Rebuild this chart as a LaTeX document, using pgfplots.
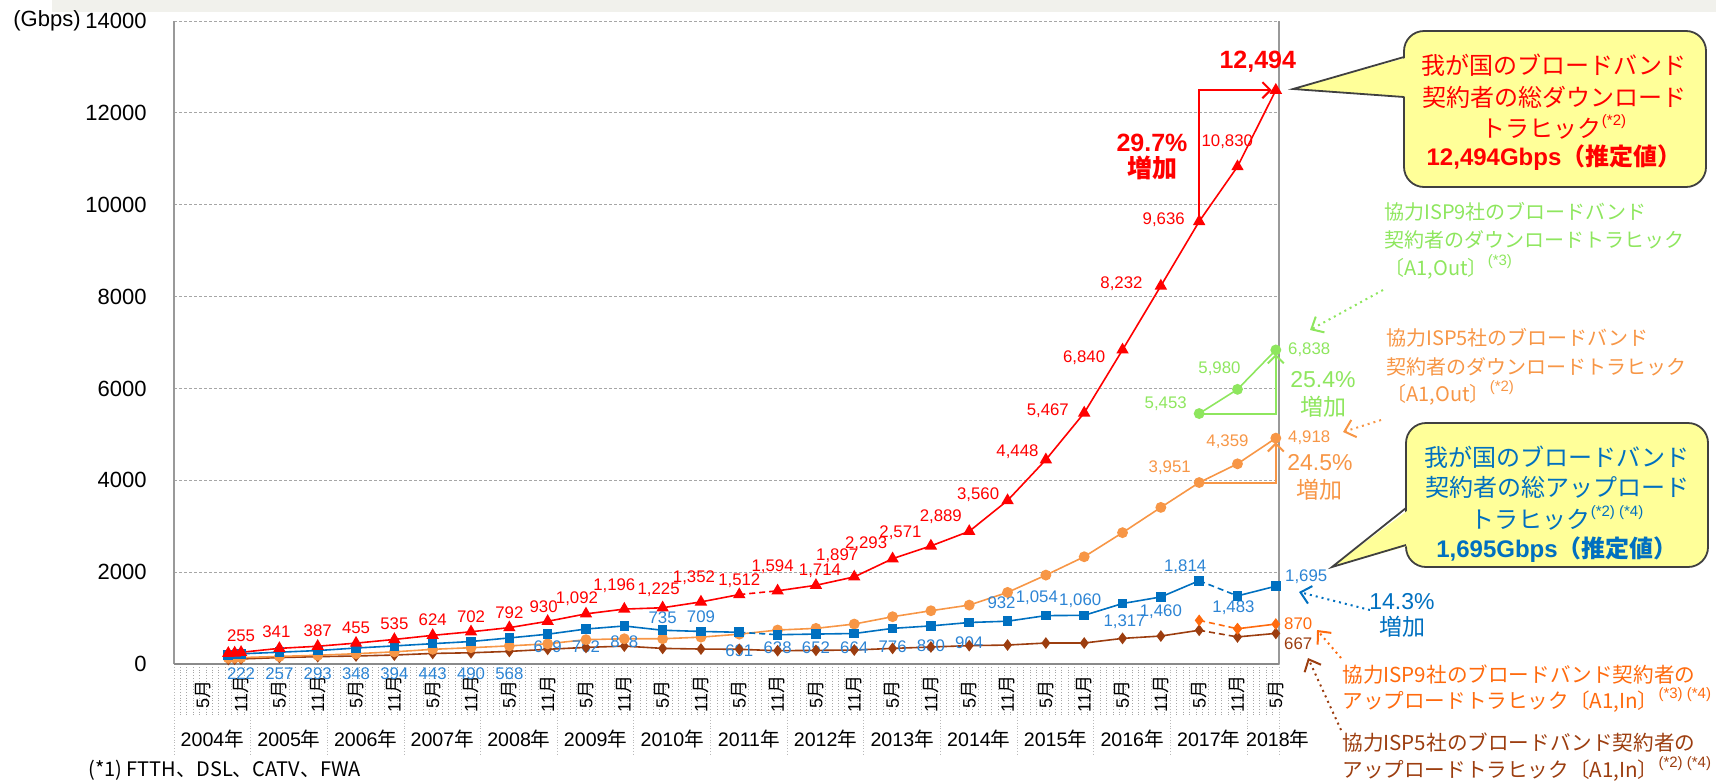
\documentclass[border=0pt]{standalone}
\usepackage{pgfplots}
\pgfplotsset{compat=1.18}
\usepackage{fontspec}
\setmainfont{Liberation Sans}
\newfontfamily\jp{Noto Sans CJK JP}
\usetikzlibrary{arrows.meta}
\definecolor{cred}{HTML}{FF0000}
\definecolor{cblue}{HTML}{0070C0}
\definecolor{cbluet}{HTML}{2C84D4}
\definecolor{corange}{HTML}{F79646}
\definecolor{cgreen}{HTML}{8EE65E}
\definecolor{cdorange}{HTML}{FF6A0D}
\definecolor{cbrown}{HTML}{9C3D0F}
\definecolor{cgrid}{HTML}{A6A6A6}
\definecolor{cframe}{HTML}{999999}
\definecolor{cyellow}{HTML}{FFFF99}
\definecolor{cstrip}{HTML}{F1F1EC}
\newcommand{\sups}[1]{\raisebox{0.5em}{\normalfont\fontsize{7.5}{8}\selectfont #1}}
\tikzset{lbl/.style={font=\fontsize{8.4}{9}\selectfont, inner sep=0pt},
  mlab/.style={rotate=90, font=\fontsize{9}{10}\selectfont, inner sep=0pt},
  ylab/.style={font=\fontsize{9.8}{11}\selectfont, inner sep=0pt}}
\begin{document}
\begin{tikzpicture}
\path[use as bounding box] (0pt,0pt) rectangle (858pt,-391pt);
\fill[cstrip] (26pt,0pt) rectangle (858pt,-6pt);
\begin{axis}[
  at={(87pt,-332pt)}, anchor=south west,
  width=552.5pt, height=321.5pt, scale only axis,
  xmin=0, xmax=173, ymin=0, ymax=14000,
  axis line style={draw=none},
  xtick=\empty,
  ytick={0,2000,4000,6000,8000,10000,12000,14000},
  scaled y ticks=false,
  ymajorgrids, grid style={cgrid, dash pattern=on 1.5pt off 1pt, line width=0.5pt},
  major tick length=0pt,
  yticklabel style={font=\fontsize{11}{13}\selectfont, anchor=east, inner sep=0pt, xshift=-13.5pt},
  /pgf/number format/set thousands separator={},
  /pgf/number format/assume math mode=true,
  clip=false,
]
% month and year separators below the axis
\pgfplotsinvokeforeach{0,...,173}{\draw[densely dotted, gray!70, line width=0.4pt] (axis cs:#1,0) -- ++(0pt,-25.5pt);}
\pgfplotsinvokeforeach{0,12,24,36,48,60,72,84,96,108,120,132,144,156,168,173}{\draw[densely dotted, gray!55, line width=0.4pt] (axis cs:#1,0) -- ++(0pt,-45.5pt);}
\pgfplotsinvokeforeach{4.5,16.5,28.5,40.5,52.5,64.5,76.5,88.5,100.5,112.5,124.5,136.5,148.5,160.5,172.5}{\node[mlab] at ([yshift=-15pt]axis cs:#1,0) {5{\jp 月}};}
\pgfplotsinvokeforeach{10.5,22.5,34.5,46.5,58.5,70.5,82.5,94.5,106.5,118.5,130.5,142.5,154.5,166.5}{\node[mlab] at ([yshift=-15pt]axis cs:#1,0) {11{\jp 月}};}
\node[ylab] at ([yshift=-37.5pt]axis cs:6,0) {2004{\jp 年}};
\node[ylab] at ([yshift=-37.5pt]axis cs:18,0) {2005{\jp 年}};
\node[ylab] at ([yshift=-37.5pt]axis cs:30,0) {2006{\jp 年}};
\node[ylab] at ([yshift=-37.5pt]axis cs:42,0) {2007{\jp 年}};
\node[ylab] at ([yshift=-37.5pt]axis cs:54,0) {2008{\jp 年}};
\node[ylab] at ([yshift=-37.5pt]axis cs:66,0) {2009{\jp 年}};
\node[ylab] at ([yshift=-37.5pt]axis cs:78,0) {2010{\jp 年}};
\node[ylab] at ([yshift=-37.5pt]axis cs:90,0) {2011{\jp 年}};
\node[ylab] at ([yshift=-37.5pt]axis cs:102,0) {2012{\jp 年}};
\node[ylab] at ([yshift=-37.5pt]axis cs:114,0) {2013{\jp 年}};
\node[ylab] at ([yshift=-37.5pt]axis cs:126,0) {2014{\jp 年}};
\node[ylab] at ([yshift=-37.5pt]axis cs:138,0) {2015{\jp 年}};
\node[ylab] at ([yshift=-37.5pt]axis cs:150,0) {2016{\jp 年}};
\node[ylab] at ([yshift=-37.5pt]axis cs:162,0) {2017{\jp 年}};
\node[ylab] at ([yshift=-37.5pt]axis cs:172.8,0) {2018{\jp 年}};
% frame
\draw[cframe, line width=0.8pt] (rel axis cs:0,1) -- (rel axis cs:0,0);
\draw[cframe, line width=0.8pt] (rel axis cs:1,0) -- (rel axis cs:1,1);
\draw[cframe!90!black, line width=1.1pt] (rel axis cs:0,0) -- (rel axis cs:1,0);

% ISP5 upload (brown)
\addplot[cbrown, line width=0.8pt, mark=diamond*, mark size=2.3pt] coordinates {
(8.5,100) (9.5,105) (10.5,110) (16.5,140) (22.5,160) (28.5,175) (34.5,195) (40.5,230) (46.5,245) (52.5,275) (58.5,320) (64.5,362) (70.5,390) (76.5,340) (82.5,326) (88.5,320) (94.5,290) (100.5,297) (106.5,305) (112.5,340) (118.5,370) (124.5,400) (130.5,413) (136.5,457) (142.5,457) (148.5,558) (154.5,609) (160.5,735)};
\addplot[cbrown, line width=0.8pt, dash pattern=on 3pt off 2pt] coordinates {(160.5,735) (166.5,590)};
\addplot[cbrown, line width=0.8pt, mark=diamond*, mark size=2.3pt] coordinates {(166.5,590) (172.5,667)};
% ISP9 upload (dark orange)
\addplot[cdorange, line width=0.8pt, dash pattern=on 3pt off 2pt, mark=diamond*, mark size=2.3pt, mark options={solid}] coordinates {(160.5,950) (166.5,768)};
\addplot[cdorange, line width=0.8pt, mark=diamond*, mark size=2.3pt] coordinates {(166.5,768) (172.5,870)};
% ISP5 download (orange)
\addplot[corange, line width=0.8pt, mark=*, mark size=2.3pt] coordinates {
(8.5,130) (9.5,135) (10.5,140) (16.5,165) (22.5,190) (28.5,225) (34.5,265) (40.5,320) (46.5,355) (52.5,395) (58.5,440) (64.5,530) (70.5,550) (76.5,550) (82.5,585) (88.5,650) (94.5,740) (100.5,776) (106.5,870) (112.5,1030) (118.5,1160) (124.5,1283) (130.5,1559) (136.5,1936) (142.5,2335) (148.5,2860) (154.5,3410) (160.5,3951) (166.5,4359) (172.5,4918)};
% ISP9 download (green)
\addplot[cgreen, line width=0.8pt, mark=*, mark size=2.3pt] coordinates {(160.5,5453) (166.5,5980) (172.5,6838)};
% total upload (blue)
\addplot[cblue, line width=0.8pt, mark=square*, mark size=2pt] coordinates {
(8.5,195) (9.5,205) (10.5,222) (16.5,257) (22.5,293) (28.5,348) (34.5,394) (40.5,443) (46.5,490) (52.5,568) (58.5,649) (64.5,762) (70.5,828) (76.5,735) (82.5,709) (88.5,691)};
\addplot[cblue, line width=0.8pt, dash pattern=on 3pt off 2pt] coordinates {(88.5,691) (94.5,638)};
\addplot[cblue, line width=0.8pt, mark=square*, mark size=2pt] coordinates {
(94.5,638) (100.5,652) (106.5,664) (112.5,776) (118.5,830) (124.5,904) (130.5,932) (136.5,1054) (142.5,1060) (148.5,1317) (154.5,1460) (160.5,1814)};
\addplot[cblue, line width=0.8pt, dash pattern=on 3pt off 2pt] coordinates {(160.5,1814) (166.5,1483)};
\addplot[cblue, line width=0.8pt, mark=square*, mark size=2pt] coordinates {(166.5,1483) (172.5,1695)};
% total download (red)
\addplot[cred, line width=0.8pt, mark=triangle*, mark size=2.8pt] coordinates {
(8.5,234) (9.5,242) (10.5,255) (16.5,341) (22.5,387) (28.5,455) (34.5,535) (40.5,624) (46.5,702) (52.5,792) (58.5,930) (64.5,1092) (70.5,1196) (76.5,1225) (82.5,1352) (88.5,1512)};
\addplot[cred, line width=0.8pt, dash pattern=on 3pt off 2pt] coordinates {(88.5,1512) (94.5,1594)};
\addplot[cred, line width=0.8pt, mark=triangle*, mark size=2.8pt] coordinates {
(94.5,1594) (100.5,1714) (106.5,1897) (112.5,2293) (118.5,2571) (124.5,2889) (130.5,3560) (136.5,4448) (142.5,5467) (148.5,6840) (154.5,8232) (160.5,9636) (166.5,10830) (172.5,12494)};

% growth arrows
\draw[cred, line width=1pt, -{Straight Barb[length=4pt,width=8pt]}, shorten >=2pt] (axis cs:160.5,9636) -- (axis cs:160.5,12494) -- (axis cs:172.5,12494);
\draw[cgreen, line width=1pt, -{Straight Barb[length=4pt,width=8pt]}, shorten >=2pt] (axis cs:160.5,5453) -- (axis cs:172.5,5453) -- (axis cs:172.5,6838);
\draw[corange, line width=1pt, -{Straight Barb[length=4pt,width=8pt]}, shorten >=2pt] (axis cs:160.5,3951) -- (axis cs:172.5,3951) -- (axis cs:172.5,4918);

% red labels
\begin{scope}[every node/.style={lbl, text=cred}]
\node[anchor=south, yshift=5pt] at (axis cs:10.5,255) {255};
\node[anchor=south, yshift=5pt, xshift=-1.5pt] at (axis cs:16.5,341) {341};
\node[anchor=south, yshift=4.5pt] at (axis cs:22.5,387) {387};
\node[anchor=south, yshift=4.5pt] at (axis cs:28.5,455) {455};
\node[anchor=south, yshift=4.5pt] at (axis cs:34.5,535) {535};
\node[anchor=south, yshift=4.5pt] at (axis cs:40.5,624) {624};
\node[anchor=south, yshift=4.5pt] at (axis cs:46.5,702) {702};
\node[anchor=south, yshift=4.5pt] at (axis cs:52.5,792) {792};
\node[anchor=south, yshift=4pt, xshift=-2pt] at (axis cs:58.5,930) {930};
\node[anchor=south, yshift=4pt, xshift=-4.5pt] at (axis cs:64.5,1092) {1,092};
\node[anchor=south, yshift=8pt, xshift=-5pt] at (axis cs:70.5,1196) {1,196};
\node[anchor=south, yshift=5.5pt, xshift=-2pt] at (axis cs:76.5,1225) {1,225};
\node[anchor=south, yshift=8.5pt, xshift=-3.5pt] at (axis cs:82.5,1352) {1,352};
\node[anchor=south, yshift=3.5pt] at (axis cs:88.5,1512) {1,512};
\node[anchor=south, yshift=8.5pt, xshift=-2.5pt] at (axis cs:94.5,1594) {1,594};
\node[anchor=south, yshift=3.5pt, xshift=2pt] at (axis cs:100.5,1714) {1,714};
\node[anchor=south, yshift=7pt, xshift=-8.5pt] at (axis cs:106.5,1897) {1,897};
\node[anchor=south east, yshift=4pt, xshift=-2.5pt] at (axis cs:112.5,2293) {2,293};
\node[anchor=south east, yshift=3pt, xshift=-4.5pt] at (axis cs:118.5,2571) {2,571};
\node[anchor=south east, yshift=3.5pt, xshift=-3.5pt] at (axis cs:124.5,2889) {2,889};
\node[anchor=east, yshift=3pt, xshift=-4pt] at (axis cs:130.5,3560) {3,560};
\node[anchor=east, yshift=4pt, xshift=-3.5pt] at (axis cs:136.5,4448) {4,448};
\node[anchor=east, yshift=1pt, xshift=-7.5pt] at (axis cs:142.5,5467) {5,467};
\node[anchor=east, yshift=-4pt, xshift=-8.5pt] at (axis cs:148.5,6840) {6,840};
\node[anchor=east, yshift=1pt, xshift=-9pt] at (axis cs:154.5,8232) {8,232};
\node[anchor=east, yshift=1pt, xshift=-7pt] at (axis cs:160.5,9636) {9,636};
\node[anchor=west, yshift=12.5pt, xshift=1pt] at (axis cs:160.5,10830) {10,830};
\node[font=\fontsize{12.5}{14}\selectfont\bfseries, xshift=-9pt, yshift=14pt] at (axis cs:172.5,12494) {12,494};
\end{scope}
% blue labels
\begin{scope}[every node/.style={lbl, text=cbluet}]
\node[yshift=-5pt] at (axis cs:10.5,0) {222};
\node[yshift=-5pt] at (axis cs:16.5,0) {257};
\node[yshift=-5pt] at (axis cs:22.5,0) {293};
\node[yshift=-5pt] at (axis cs:28.5,0) {348};
\node[yshift=-5pt] at (axis cs:34.5,0) {394};
\node[yshift=-5pt] at (axis cs:40.5,0) {443};
\node[yshift=-5pt] at (axis cs:46.5,0) {490};
\node[yshift=-5pt] at (axis cs:52.5,0) {568};
\node[yshift=-6.5pt] at (axis cs:58.5,649) {649};
\node[yshift=-9pt] at (axis cs:64.5,762) {762};
\node[yshift=-8pt] at (axis cs:70.5,828) {828};
\node[yshift=6.5pt] at (axis cs:76.5,735) {735};
\node[yshift=7.5pt] at (axis cs:82.5,709) {709};
\node[yshift=-9pt] at (axis cs:88.5,691) {691};
\node[yshift=-6.5pt] at (axis cs:94.5,638) {638};
\node[yshift=-7pt] at (axis cs:100.5,652) {652};
\node[yshift=-7pt] at (axis cs:106.5,664) {664};
\node[yshift=-9pt] at (axis cs:112.5,776) {776};
\node[yshift=-10pt] at (axis cs:118.5,830) {830};
\node[yshift=-10pt] at (axis cs:124.5,904) {904};
\node[yshift=9pt, xshift=-3pt] at (axis cs:130.5,932) {932};
\node[yshift=9pt, xshift=-4.5pt] at (axis cs:136.5,1054) {1,054};
\node[yshift=7.5pt, xshift=-2pt] at (axis cs:142.5,1060) {1,060};
\node[yshift=-9pt, xshift=1pt] at (axis cs:148.5,1317) {1,317};
\node[yshift=-7.5pt] at (axis cs:154.5,1460) {1,460};
\node[yshift=7pt, xshift=-7pt] at (axis cs:160.5,1814) {1,814};
\node[yshift=-6pt, xshift=-2pt] at (axis cs:166.5,1483) {1,483};
\node[anchor=west, yshift=4.5pt, xshift=4.5pt] at (axis cs:172.5,1695) {1,695};
\end{scope}
% other labels
\node[lbl, text=corange, anchor=east, xshift=-4pt, yshift=7.5pt] at (axis cs:160.5,3951) {3,951};
\node[lbl, text=corange, xshift=-5pt, yshift=11pt] at (axis cs:166.5,4359) {4,359};
\node[lbl, text=corange, anchor=west, xshift=6pt] at (axis cs:172.5,4918) {4,918};
\node[lbl, text=cgreen, anchor=east, xshift=-6pt, yshift=5pt] at (axis cs:160.5,5453) {5,453};
\node[lbl, text=cgreen, xshift=-9pt, yshift=10.5pt] at (axis cs:166.5,5980) {5,980};
\node[lbl, text=cgreen, anchor=west, xshift=6pt] at (axis cs:172.5,6838) {6,838};
\node[lbl, text=cdorange, anchor=west, xshift=4pt] at (axis cs:172.5,870) {870};
\node[lbl, text=cbrown, anchor=west, xshift=4pt, yshift=-5pt] at (axis cs:172.5,667) {667};
\end{axis}

\begin{scope}[x=0.5pt, y=-0.5pt]
\node[anchor=west, inner sep=0pt, font=\fontsize{11}{13}\selectfont] at (13,21) {(Gbps)};
% percentage notes
\node[font=\fontsize{12.5}{14}\selectfont\bfseries, text=cred] at (1152,143) {29.7\%};
\node[font=\jp\fontsize{12.5}{14}\selectfont\bfseries, text=cred] at (1152,168) {増加};
\node[font=\fontsize{11.5}{13}\selectfont, text=cgreen] at (1323,380) {25.4\%};
\node[font=\jp\fontsize{11.5}{13}\selectfont, text=cgreen] at (1323,407) {増加};
\node[font=\fontsize{11.5}{13}\selectfont, text=corange] at (1320,463) {24.5\%};
\node[font=\jp\fontsize{11.5}{13}\selectfont, text=corange] at (1319,490) {増加};
\node[font=\fontsize{11.5}{13}\selectfont, text=cblue] at (1402,602) {14.3\%};
\node[font=\jp\fontsize{11.5}{13}\selectfont, text=cblue] at (1402,627) {増加};
% callout red
\draw[fill=cyellow, draw=black!75, line width=0.9pt, rounded corners=10pt] (1404,31) rectangle (1706,187);
\fill[cyellow] (1293,89) -- (1409,57) -- (1409,97) -- cycle;
\draw[black!75, line width=0.9pt, line join=miter] (1404,57) -- (1293,89) -- (1404,97);
\begin{scope}[every node/.style={font=\jp\fontsize{12}{14}\selectfont, text=cred, inner sep=0pt}]
\node at (1554,65) {我が国のブロードバンド};
\node at (1554,97) {契約者の総ダウンロード};
\node at (1554,127) {トラヒック\sups{(*2)}};
\node at (1554,158) {{\normalfont\bfseries 12,494Gbps}{\bfseries （推定値）}};
\end{scope}
% callout blue
\draw[fill=cyellow, draw=black!75, line width=0.9pt, rounded corners=10pt] (1406,423) rectangle (1708,567);
\fill[cyellow] (1332,567) -- (1411,508) -- (1411,545) -- cycle;
\draw[black!75, line width=0.9pt, line join=miter] (1406,508) -- (1332,567) -- (1406,545);
\begin{scope}[every node/.style={font=\jp\fontsize{12}{14}\selectfont, text=cblue, inner sep=0pt}]
\node at (1557,457) {我が国のブロードバンド};
\node at (1557,487) {契約者の総アップロード};
\node at (1557,518) {トラヒック\sups{(*2) (*4)}};
\node at (1557,550) {{\normalfont\bfseries 1,695Gbps}{\bfseries （推定値）}};
\end{scope}
% annotations
\begin{scope}[every node/.style={font=\jp\fontsize{10}{12}\selectfont, text=cgreen, inner sep=0pt, anchor=west}]
\node at (1384,212) {協力ISP9社のブロードバンド};
\node at (1384,240) {契約者のダウンロードトラヒック};
\node at (1384,267) {〔A1,Out〕\sups{(*3)}};
\end{scope}
\begin{scope}[every node/.style={font=\jp\fontsize{10}{12}\selectfont, text=corange, inner sep=0pt, anchor=west}]
\node at (1386,338) {協力ISP5社のブロードバンド};
\node at (1386,367) {契約者のダウンロードトラヒック};
\node at (1386,393) {〔A1,Out〕\sups{(*2)}};
\end{scope}
\begin{scope}[every node/.style={font=\jp\fontsize{10.3}{12}\selectfont, text=cdorange, inner sep=0pt, anchor=west}]
\node at (1342,675) {協力ISP9社のブロードバンド契約者の};
\node at (1342,700) {アップロードトラヒック〔A1,In〕\sups{(*3) (*4)}};
\end{scope}
\begin{scope}[every node/.style={font=\jp\fontsize{10.3}{12}\selectfont, text=cbrown, inner sep=0pt, anchor=west}]
\node at (1342,743) {協力ISP5社のブロードバンド契約者の};
\node at (1342,769) {アップロードトラヒック〔A1,In〕\sups{(*2) (*4)}};
\end{scope}
\node[anchor=west, inner sep=0pt, font=\jp\fontsize{10}{12}\selectfont] at (88,770) {(*1) FTTH、DSL、CATV、FWA};
% dotted pointer arrows
\draw[cgreen, line width=1pt, dotted, -{Straight Barb[length=5pt,width=9pt]}] (1383,290) -- (1310,330);
\draw[corange, line width=1pt, dotted, -{Straight Barb[length=5pt,width=9pt]}] (1381,420) -- (1343,432);
\draw[cblue, line width=1pt, dotted, -{Straight Barb[length=5pt,width=9pt]}] (1370,610) -- (1299,592);
\draw[cdorange, line width=1pt, dotted, -{Straight Barb[length=5pt,width=9pt]}] (1341,658) -- (1317,630);
\draw[cbrown, line width=1pt, dotted, -{Straight Barb[length=5pt,width=9pt]}] (1341,730) -- (1308,658);
\end{scope}
\end{tikzpicture}
\end{document}
